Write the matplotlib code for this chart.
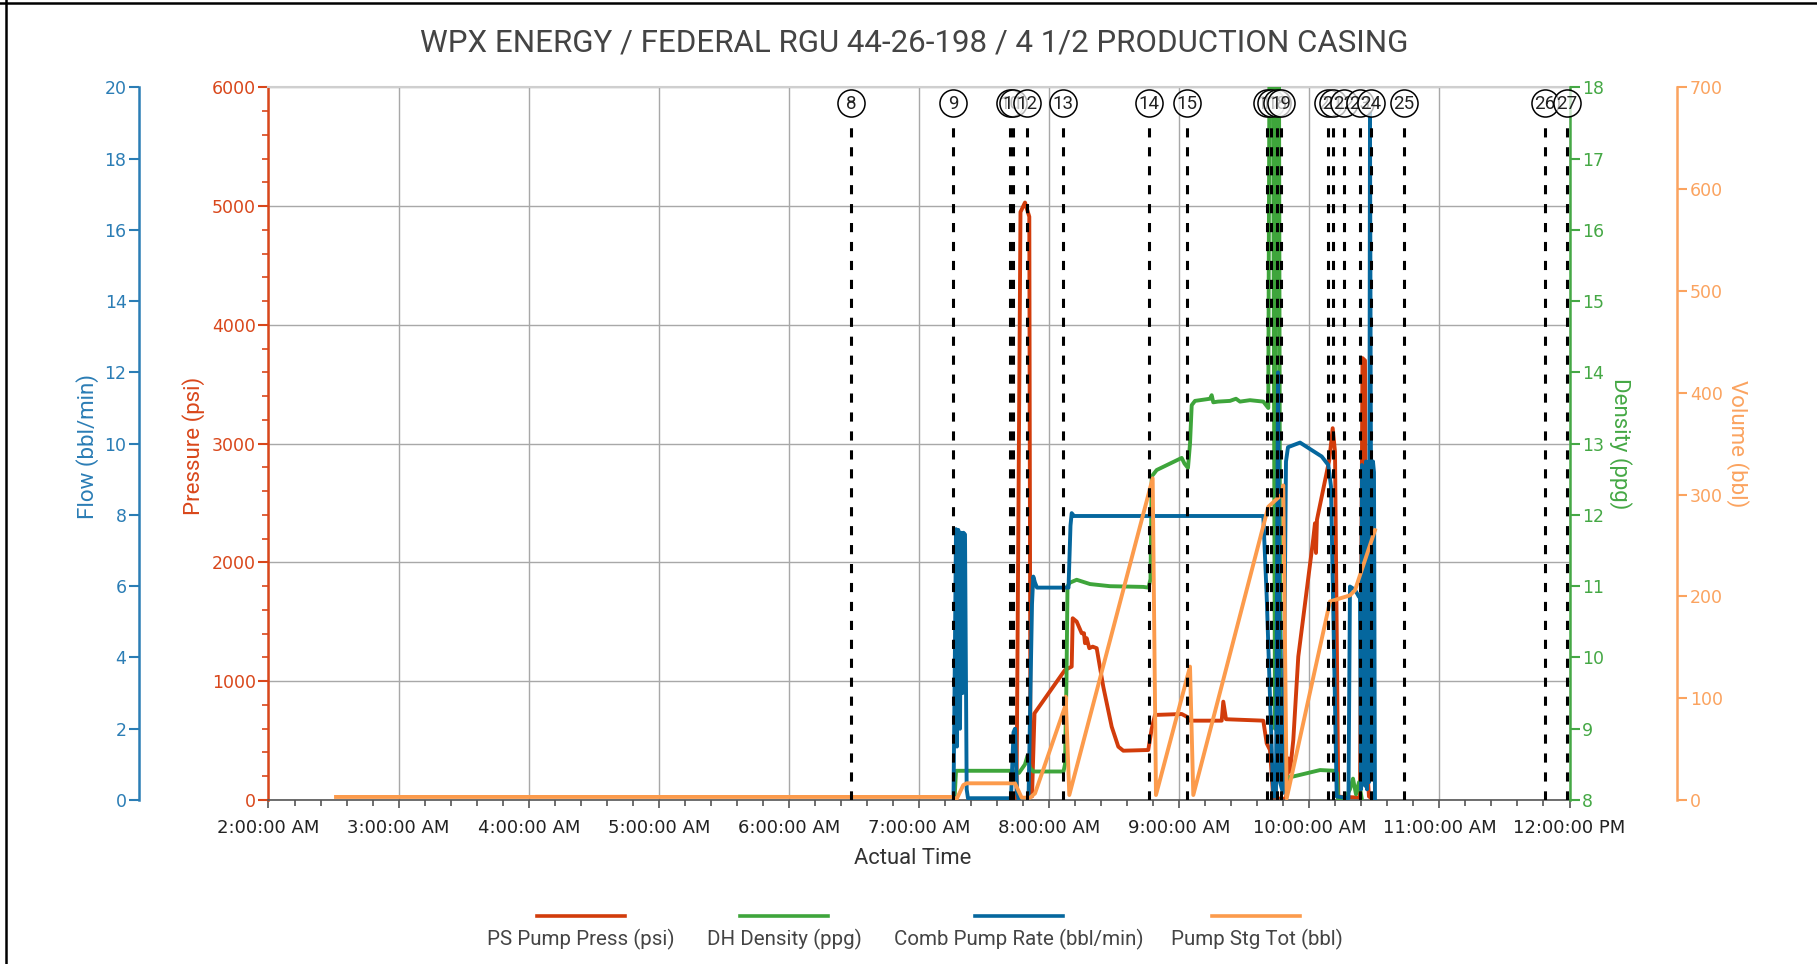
import numpy as np
import pandas as pd
import matplotlib
matplotlib.use('Agg')
import matplotlib.pyplot as plt
import matplotlib.dates as mdates
from matplotlib.lines import Line2D
from matplotlib.ticker import MultipleLocator, FuncFormatter
from matplotlib.transforms import blended_transform_factory

# ---- data (clock time, value) ----
press_time = ["07:44:58", "07:46:48", "07:48:53", "07:50:52", "07:51:25", "07:52:07", "07:53:16",
              "08:07:20", "08:10:25", "08:10:53", "08:12:43", "08:15:02", "08:16:05", "08:16:33",
              "08:17:20", "08:18:32", "08:20:06", "08:21:57", "08:24:59", "08:28:52", "08:31:55",
              "08:34:13", "08:45:44", "08:47:19", "08:48:50", "09:01:09", "09:03:27", "09:04:59",
              "09:19:36", "09:20:20", "09:21:35", "09:38:47", "09:40:21", "09:41:52", "09:43:23",
              "09:49:15", "09:50:24", "09:51:06", "09:52:37", "09:54:55", "10:01:50", "10:02:37",
              "10:03:05", "10:03:32", "10:09:13", "10:10:47", "10:11:51", "10:13:22", "10:23:22",
              "10:24:32", "10:25:41", "10:26:36", "10:27:31", "10:29:50"]
press_psi = [0, 4950, 5030, 4910, 150, 30, 730,
             1095, 1123, 1530, 1502, 1404, 1404, 1320,
             1362, 1278, 1291, 1278, 954, 617, 449,
             415, 421, 600, 716, 724, 702, 668,
             668, 828, 680, 668, 477, 421, 14,
             10, 350, 240, 505, 1207, 2200, 2330,
             2080, 2360, 2863, 3130, 2933, 28, 20,
             3720, 3700, 300, 30, 0]

dens_time = ["07:16:22", "07:17:04", "07:42:53", "07:46:07", "07:48:53", "07:50:02", "07:51:11",
             "07:52:48", "08:06:38", "08:07:20", "08:08:01", "08:08:29", "08:09:38", "08:12:43",
             "08:18:52", "08:28:05", "08:43:26", "08:45:50", "08:46:46", "08:47:19", "08:49:37",
             "09:01:09", "09:02:26", "09:04:03", "09:04:59", "09:05:46", "09:07:17", "09:09:35",
             "09:14:12", "09:14:59", "09:15:43", "09:17:53", "09:23:25", "09:26:11", "09:28:02",
             "09:32:38", "09:38:47", "09:41:05", "09:41:38", "09:43:15", "09:44:11", "09:44:38",
             "09:46:01", "09:46:40", "09:47:52", "09:52:37", "10:04:56", "10:11:51", "10:12:46",
             "10:13:14", "10:16:28", "10:18:45", "10:20:09", "10:21:32", "10:22:55", "10:24:17"]
dens_ppg = [8.0, 8.41, 8.41, 8.38, 8.5, 8.62, 8.45,
            8.40, 8.40, 8.5, 9.7, 11.0, 11.05, 11.09,
            11.03, 11.0, 10.99, 10.98, 11.1, 12.54, 12.63,
            12.80, 12.72, 12.66, 13.0, 13.54, 13.6, 13.61,
            13.63, 13.68, 13.58, 13.59, 13.6, 13.63, 13.59,
            13.61, 13.59, 13.50, 18.5, 18.5, 9.0, 18.5,
            18.5, 8.35, 8.3, 8.33, 8.42, 8.41, 8.38,
            8.02, 8.02, 8.15, 8.3, 8.08, 8.25, 8.0]

rate_time = ["07:15:55", "07:16:36", "07:17:04", "07:17:31", "07:18:07", "07:18:55", "07:19:22",
             "07:20:04", "07:20:31", "07:21:13", "07:21:59", "07:22:35", "07:42:26", "07:43:35",
             "07:44:16", "07:45:11", "07:46:07", "07:50:30", "07:52:07", "07:52:42", "07:53:30",
             "07:54:25", "08:08:57", "08:09:52", "08:10:25", "08:11:29", "09:38:47", "09:40:21",
             "09:43:23", "09:44:38", "09:45:34", "09:46:29", "09:47:52", "09:49:15", "09:50:10",
             "09:55:43", "10:00:19", "10:05:43", "10:08:46", "10:10:00", "10:12:38", "10:18:04",
             "10:18:45", "10:21:04", "10:22:55", "10:23:22", "10:23:50", "10:24:17", "10:24:46",
             "10:25:13", "10:25:41", "10:26:08", "10:26:36", "10:27:04", "10:27:31", "10:27:59",
             "10:28:27", "10:28:55", "10:29:22", "10:29:50", "10:30:17"]
rate_bpm = [0, 4.5, 7.6, 1.5, 7.58, 2.0, 7.5,
            3.0, 7.5, 7.45, 0.3, 0.05, 0.05, 1.9,
            2.0, 0.2, 0.0, 0.0, 5.5, 6.27, 6.1,
            5.96, 5.96, 7.7, 8.05, 7.97, 7.97, 5.71,
            0.1, 0.1, 12.0, 0.5, 0.2, 9.5, 9.9,
            10.03, 9.85, 9.64, 9.4, 8.8, 0.1, 0.05,
            5.99, 5.9, 5.7, 5.7, 0.3, 9.4, 0.5,
            9.3, 0.4, 9.5, 0.3, 9.4, 0.5, 19.3,
            9.0, 0.6, 9.5, 9.2, 0.0]

vol_time = ["02:31:08", "07:10:08", "07:15:49", "07:16:36", "07:17:23", "07:20:26", "07:21:59",
            "07:44:16", "07:47:21", "07:51:11", "07:53:30", "08:07:20", "08:07:39", "08:09:19",
            "08:47:46", "08:49:17", "09:04:59", "09:06:30", "09:41:05", "09:47:16", "09:48:00",
            "09:49:34", "10:09:32", "10:18:45", "10:21:04", "10:30:17"]
vol_bbl = [3, 3, 3, 1, 1, 14.7, 16.4,
           16.4, 2.3, 2.3, 6.5, 91.7, 101.5, 4.9,
           316, 4.9, 131, 4.9, 288, 300, 309,
           1.6, 195, 201, 206, 265]

event_num = [8, 9, 10, 11, 12, 13, 14, 15, 16, 17, 18, 19, 20, 21, 22, 23, 24, 25, 26, 27]
event_time = ["06:28:50", "07:15:49", "07:41:58", "07:43:29", "07:49:40", "08:06:33", "08:46:12",
              "09:03:27", "09:40:38", "09:42:11", "09:45:14", "09:46:48", "10:08:46", "10:10:47",
              "10:16:00", "10:23:22", "10:28:19", "10:43:29", "11:48:42", "11:58:42"]

legend_names = ["PS Pump Press (psi)", "DH Density (ppg)", "Comb Pump Rate (bbl/min)", "Pump Stg Tot (bbl)"]

RED = '#d23c0b'
GREEN = '#3ea53b'
BLUE = '#05679e'
ORANGE = '#fc9b4c'
FLOW_C = '#2b7db5'
PRES_C = '#d9471b'
DENS_C = '#45a845'
VOL_C = '#fba35f'
TXT = '#444444'
COND = 'Roboto'
LW = 2.8
DAY = '2019-06-01 '


def tnum(lst):
    return mdates.date2num(pd.to_datetime([DAY + s for s in lst]))


fig = plt.figure(figsize=(18.17, 9.64), dpi=100)
ax = fig.add_axes([0.14777, 0.17012, 0.71602, 0.73932])
ax_dens = ax.twinx()
ax_flow = ax.twinx()
ax_vol = ax.twinx()

ax.plot(tnum(press_time), press_psi, color=RED, lw=LW)
ax_dens.plot(tnum(dens_time), dens_ppg, color=GREEN, lw=LW)
ax_flow.plot(tnum(rate_time), rate_bpm, color=BLUE, lw=LW)
ax_vol.plot(tnum(vol_time), vol_bbl, color=ORANGE, lw=LW)

# x axis
ax.set_xlim(tnum(["02:00:00", "12:00:00"]))
ax.xaxis.set_major_locator(mdates.HourLocator())
ax.xaxis.set_minor_locator(mdates.MinuteLocator(byminute=[12, 24, 36, 48]))
ax.xaxis.set_major_formatter(FuncFormatter(
    lambda v, p: mdates.num2date(v).strftime('%I:%M:%S %p').lstrip('0')))
ax.tick_params(axis='x', which='major', length=6, width=1.2, color='#555555',
               labelsize=13, labelcolor='#222222', pad=8)
ax.tick_params(axis='x', which='minor', length=4, width=1.2, color='#555555')
ax.grid(True, which='major', color='#a8a8a8', lw=1.0)
ax.set_axisbelow(True)

# pressure (main, left)
ax.set_ylim(0, 6000)
ax.yaxis.set_major_locator(MultipleLocator(1000))
ax.yaxis.set_minor_locator(MultipleLocator(200))
ax.tick_params(axis='y', which='major', colors=PRES_C, length=7, width=1.5, labelsize=12.5, pad=2)
ax.tick_params(axis='y', which='minor', color=PRES_C, length=4, width=1.2)
ax.spines['left'].set_color(PRES_C)
ax.spines['left'].set_linewidth(1.8)
ax.spines['right'].set_visible(False)
ax.spines['top'].set_color('#cfcfcf')
ax.spines['top'].set_linewidth(1.5)
ax.spines['bottom'].set_color('#555555')
ax.spines['bottom'].set_linewidth(1.2)

# flow (outer left)
ax_flow.set_ylim(0, 20)
ax_flow.yaxis.set_major_locator(MultipleLocator(2))
ax_flow.yaxis.set_ticks_position('left')
ax_flow.spines['left'].set_visible(True)
ax_flow.spines['left'].set_position(('axes', -0.0995))
ax_flow.spines['left'].set_color(FLOW_C)
ax_flow.spines['left'].set_linewidth(1.8)
ax_flow.tick_params(axis='y', colors=FLOW_C, length=7, width=1.5, labelsize=12.5, pad=2)

# density (right)
ax_dens.set_ylim(8, 18)
ax_dens.yaxis.set_major_locator(MultipleLocator(1))
ax_dens.spines['right'].set_color(DENS_C)
ax_dens.spines['right'].set_linewidth(1.8)
ax_dens.tick_params(axis='y', colors=DENS_C, length=7, width=1.5, labelsize=12.5, pad=2)

# volume (outer right)
ax_vol.set_ylim(0, 700)
ax_vol.yaxis.set_major_locator(MultipleLocator(100))
ax_vol.spines['right'].set_position(('axes', 1.0829))
ax_vol.spines['right'].set_color(VOL_C)
ax_vol.spines['right'].set_linewidth(1.8)
ax_vol.tick_params(axis='y', colors=VOL_C, length=7, width=1.5, labelsize=12.5, pad=2)

for a in (ax_flow, ax_dens, ax_vol):
    for s in ('top', 'bottom'):
        a.spines[s].set_visible(False)
ax_flow.spines['right'].set_visible(False)
ax_dens.spines['left'].set_visible(False)
ax_vol.spines['left'].set_visible(False)

# event markers
trans = blended_transform_factory(ax_vol.transData, ax_vol.transAxes)
ev_x = tnum(event_time)
for i, (n, x) in enumerate(zip(event_num, ev_x)):
    ax_vol.axvline(x, ymin=0.0, ymax=0.952, color='black', lw=2.2, ls=(0, (3, 3.2)), zorder=5)
    ax_vol.plot([x], [0.978], 'o', ms=19.5, mfc=(1, 1, 1, 0.7), mec='black', mew=1.1,
                transform=trans, clip_on=False, zorder=6 + 2 * i)
    ax_vol.text(x, 0.977, str(n), transform=trans, ha='center', va='center',
                fontsize=13.5, family=COND, color='#222222', zorder=7 + 2 * i)

# texts
fig.text(0.503, 0.9555, "WPX ENERGY / FEDERAL RGU 44-26-198 / 4 1/2 PRODUCTION CASING",
         ha='center', va='center', fontsize=22.5, family=COND, color=TXT)
fig.text(0.0479, 0.5373, "Flow (bbl/min)", rotation=90, ha='center', va='center',
         fontsize=16, family=COND, color=FLOW_C)
fig.text(0.1065, 0.5373, "Pressure (psi)", rotation=90, ha='center', va='center',
         fontsize=16, family=COND, color=PRES_C)
fig.text(0.8916, 0.5396, "Density (ppg)", rotation=270, ha='center', va='center',
         fontsize=16, family=COND, color=DENS_C)
fig.text(0.9565, 0.5396, "Volume (bbl)", rotation=270, ha='center', va='center',
         fontsize=16, family=COND, color=VOL_C)
fig.text(0.5025, 0.1093, "Actual Time", ha='center', va='center',
         fontsize=15.8, family=COND, color='#333333')

# legend (line sample above each name)
leg_x = [0.3198, 0.4315, 0.5606, 0.6915]
for cx, name, c in zip(leg_x, legend_names, [RED, GREEN, BLUE, ORANGE]):
    fig.add_artist(Line2D([cx - 0.0242, cx + 0.0242], [0.0503, 0.0503], color=c, lw=2.6))
    fig.text(cx, 0.0251, name, ha='center', va='center', fontsize=14.8, family=COND,
             color=TXT)

# frame lines at left/top edge
fig.add_artist(Line2D([0.0033, 0.0033], [0, 1], color='black', lw=1.8))
fig.add_artist(Line2D([0, 1], [0.9974, 0.9974], color='black', lw=1.8))

fig.savefig('out.png', dpi=100)
